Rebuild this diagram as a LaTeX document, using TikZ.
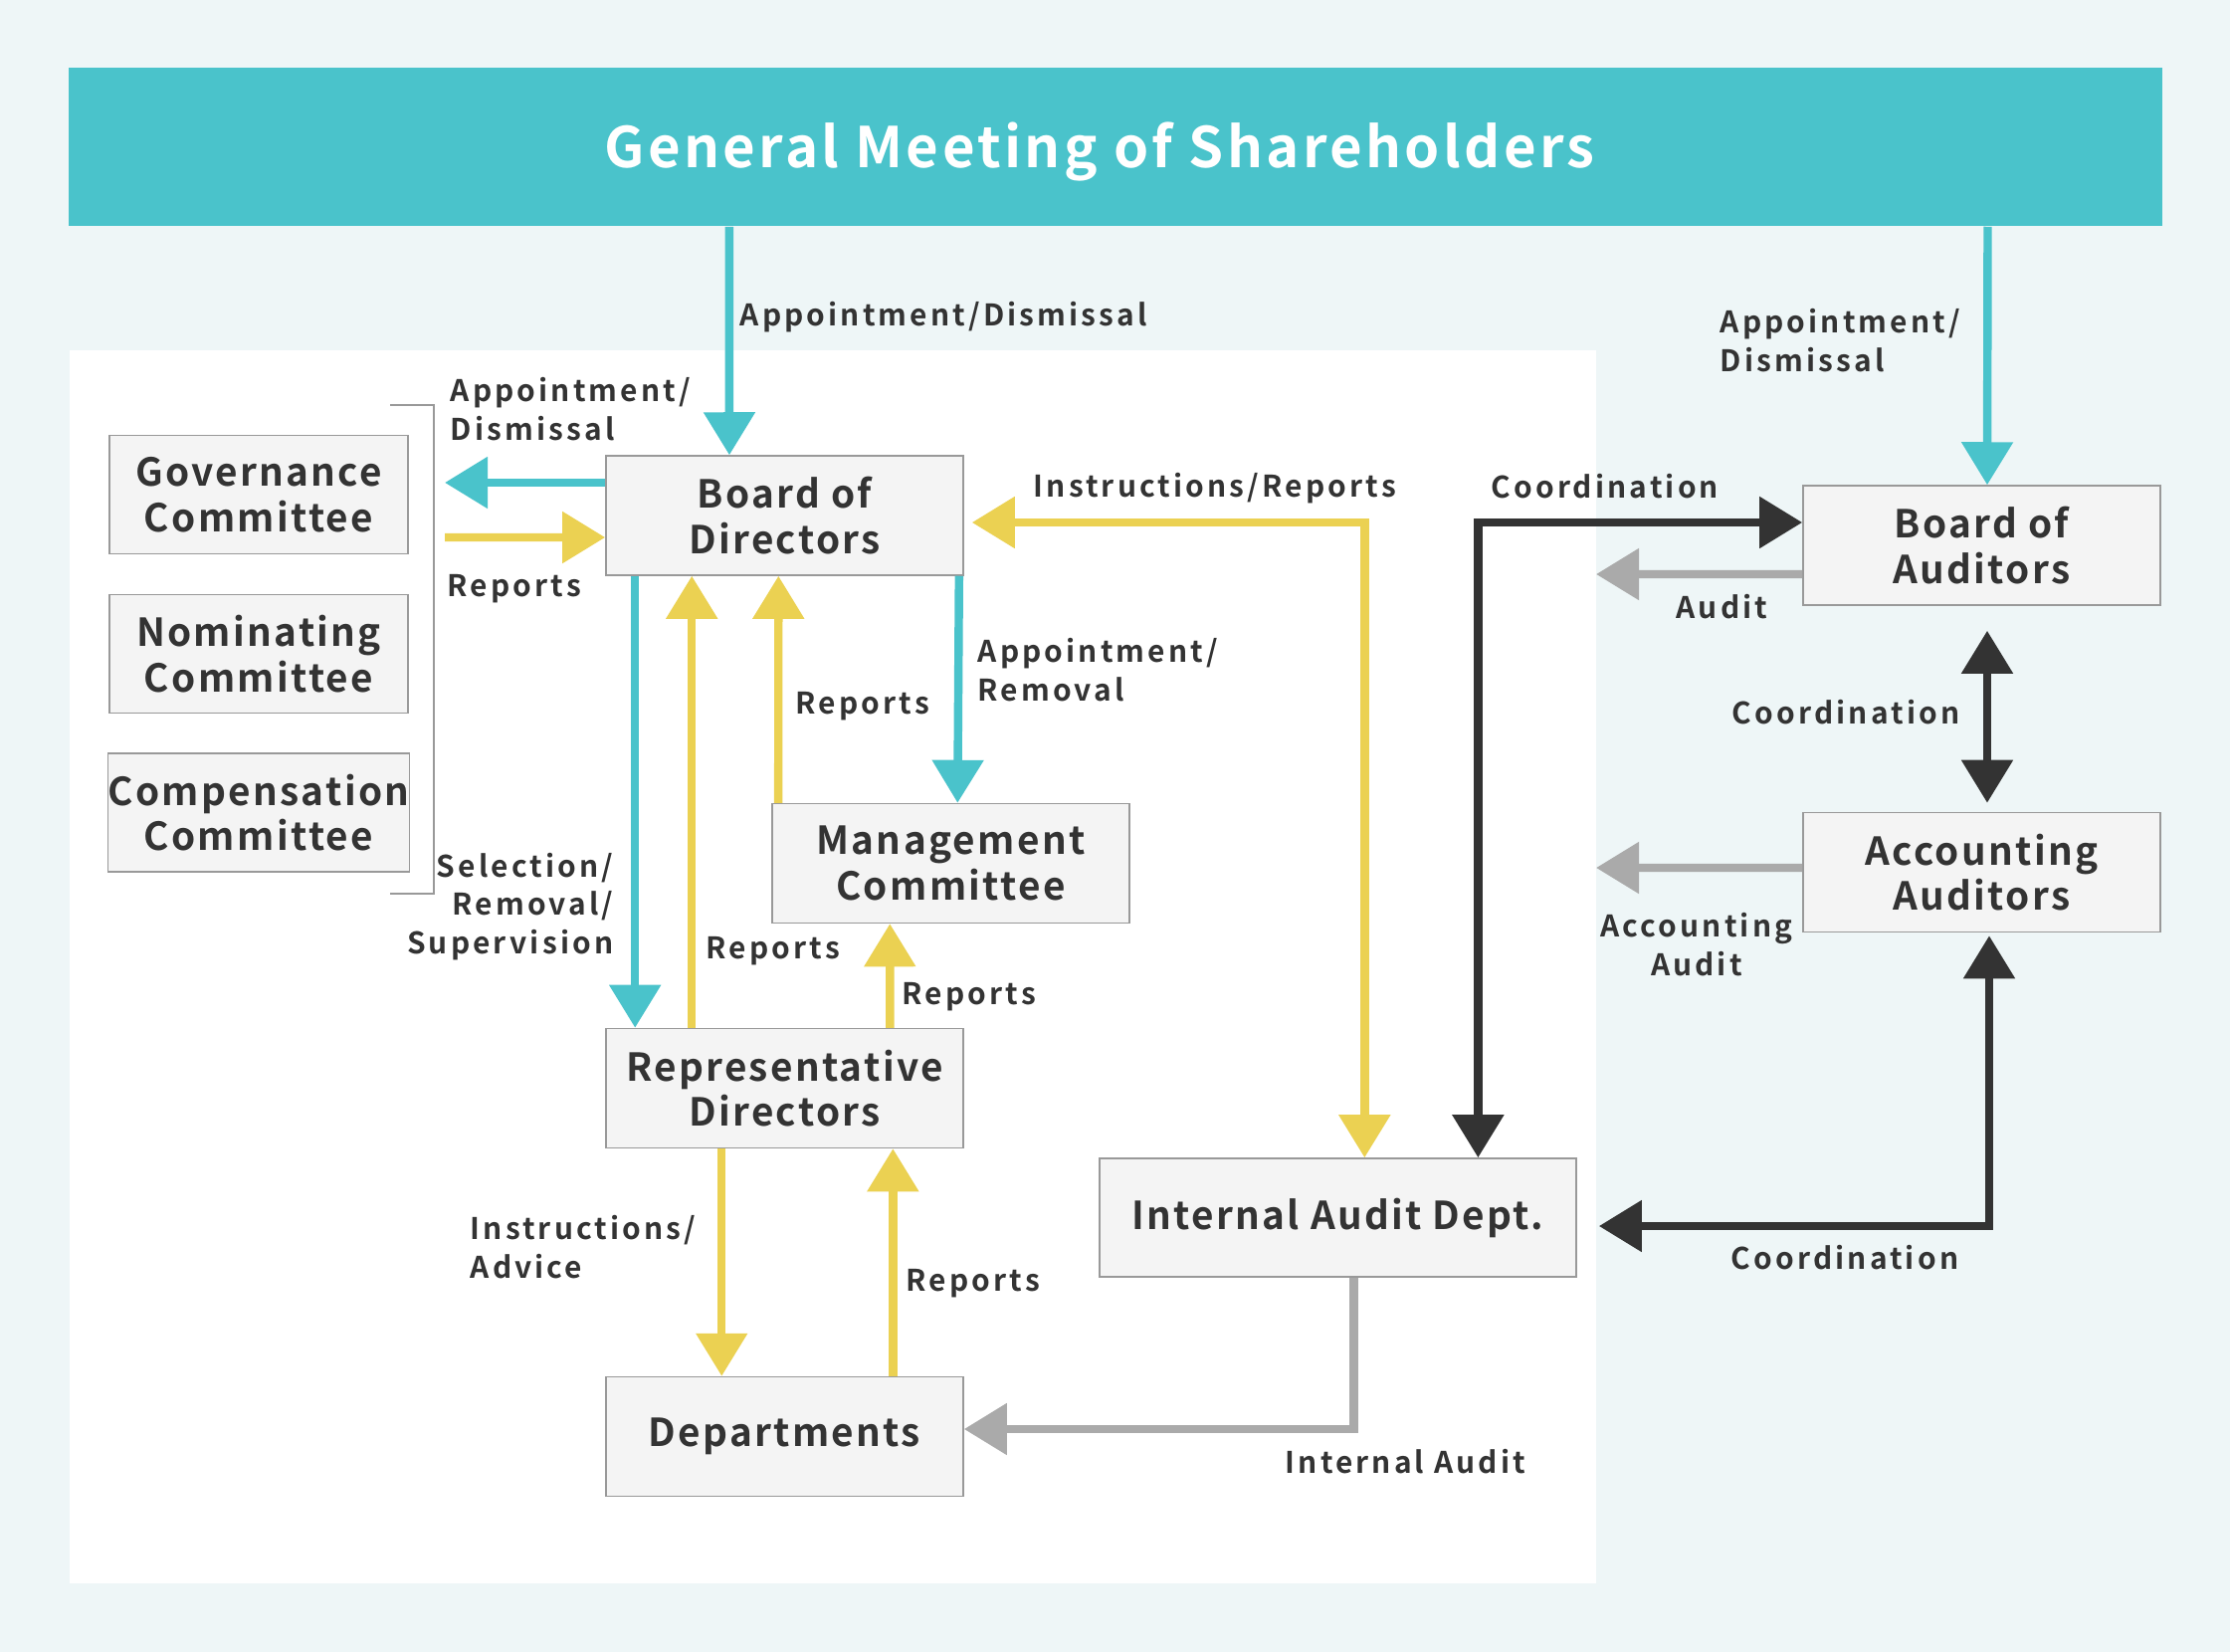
\documentclass[tikz,border=0pt]{standalone}
\usepackage{fontspec}
\setmainfont{Noto Sans CJK JP}[BoldFont={Noto Sans CJK JP Bold}, LetterSpace=6]
\usetikzlibrary{positioning, arrows.meta}

\definecolor{bgcol}{HTML}{EEF6F7}
\definecolor{tealc}{HTML}{4AC3CB}
\definecolor{yelc}{HTML}{EBD152}
\definecolor{darkc}{HTML}{333333}
\definecolor{grayc}{HTML}{AAAAAA}
\definecolor{boxc}{HTML}{F4F4F4}

\tikzset{
  box/.style={draw=black!40, fill=boxc, text=darkc, minimum width=3.59cm, minimum height=1.2cm,
    inner sep=0pt, align=center, font=\bfseries\fontsize{11}{13}\selectfont},
  lbl/.style={text=darkc, inner sep=0pt, font=\bfseries\fontsize{8.5}{11}\selectfont\addfontfeature{LetterSpace=10.5}},
  tealarr/.style={line width=2.4pt, draw=tealc, -{Triangle[length=0.43cm, width=0.5cm]}},
  yelarr/.style={line width=2.4pt, draw=yelc, -{Triangle[length=0.43cm, width=0.5cm]}},
  grayarr/.style={line width=2.4pt, draw=grayc, -{Triangle[length=0.43cm, width=0.5cm]}},
  yelboth/.style={line width=2.4pt, draw=yelc, {Triangle[length=0.43cm, width=0.5cm]}-{Triangle[length=0.43cm, width=0.5cm]}},
  darkboth/.style={line width=2.4pt, draw=darkc, {Triangle[length=0.43cm, width=0.5cm]}-{Triangle[length=0.43cm, width=0.5cm]}}
}

\begin{document}
\begin{tikzpicture}[x=0.01cm, y=-0.01cm]
\fill[bgcol] (0,0) rectangle (2241,1660);
\fill[white] (70,352) rectangle (1604,1591);
\node[fill=tealc, minimum width=21.02cm, minimum height=1.59cm, inner sep=0pt] (banner) at (1121,147.5) {};
\node[text=white, inner sep=0pt, font=\bfseries\fontsize{16}{19}\selectfont] (title) at (1105,152) {General Meeting of Shareholders};

\node[box, minimum width=3cm, minimum height=1.19cm] (gov) at (260,497) {Governance\\Committee};
\node[box, minimum width=3cm, minimum height=1.19cm] (nom) at (260,657) {Nominating\\Committee};
\node[box, minimum width=3cm, minimum height=1.19cm] (comp) at (260,816.5) {Compensation\\Committee};
\draw[black!40] (392,407) -- (436,407) -- (436,898) -- (392,898);
\coordinate (brk) at (447,517);

\node[box] (bod) at (788.5,518) {Board of\\Directors};
\node[box] (mgmt) at (955.5,867.5) {Management\\Committee};
\node[box] (rep) at (788.5,1093.5) {Representative\\Directors};
\node[box] (dept) at (788.5,1443.5) {Departments};
\node[box, minimum width=4.79cm, minimum height=1.19cm] (iad) at (1344.5,1223.5) {Internal Audit Dept.};
\node[box] (boa) at (1991.5,548) {Board of\\Auditors};
\node[box] (acc) at (1991.5,876.5) {Accounting\\Auditors};
\coordinate (auditpt) at (1604,577);
\coordinate (accpt) at (1604,872);

\draw[tealarr] ([xshift=-3.88cm]banner.south) -- ([xshift=-0.555cm]bod.north);
\draw[tealarr] ([xshift=8.76cm]banner.south) -- ([xshift=0.055cm]boa.north);
\draw[tealarr] ([yshift=0.33cm]bod.west) -- ([yshift=0.32cm]brk);
\draw[yelarr] ([yshift=-0.23cm]brk) -- ([yshift=-0.22cm]bod.west);
\draw[tealarr] ([xshift=0.3cm]bod.south west) -- ([xshift=0.3cm]rep.north west);
\draw[yelarr] ([xshift=0.87cm]rep.north west) -- ([xshift=0.87cm]bod.south west);
\draw[yelarr] ([xshift=0.07cm]mgmt.north west) -- ([xshift=1.74cm]bod.south west);
\draw[tealarr] ([xshift=-0.05cm]bod.south east) -- ([xshift=1.87cm]mgmt.north west);
\draw[yelarr] ([xshift=2.86cm]rep.north west) -- ([xshift=1.19cm]mgmt.south west);
\draw[yelarr] ([xshift=1.17cm]rep.south west) -- ([xshift=1.17cm]dept.north west);
\draw[yelarr] ([xshift=2.89cm]dept.north west) -- ([xshift=2.89cm]rep.south west);
\draw[grayarr] ([xshift=2.56cm]iad.south west) |- ([yshift=0.075cm]dept.east);
\draw[yelboth, shorten <=0.08cm] ([yshift=-0.07cm]bod.east) -| ([xshift=2.67cm]iad.north west);
\draw[darkboth] ([yshift=0.23cm]boa.west) -| ([xshift=3.81cm]iad.north west);
\draw[grayarr] ([yshift=-0.29cm]boa.west) -- (auditpt);
\draw[darkboth, shorten <=0.25cm, shorten >=0.09cm] ([xshift=0.055cm]boa.south) -- ([xshift=0.055cm]acc.north);
\draw[grayarr] ([yshift=0.045cm]acc.west) -- (accpt);
\draw[darkboth, shorten <=0.03cm, shorten >=0.22cm] ([xshift=0.075cm]acc.south) |- ([yshift=-0.085cm]iad.east);

\node[lbl, anchor=west] (l1) at (743,319) {Appointment/Dismissal};
\node[lbl, anchor=west, align=left] (l2) at (1728,342) {Appointment/\\Dismissal};
\node[lbl, anchor=west, align=left] (l3) at (452,411) {Appointment/\\Dismissal};
\node[lbl, anchor=west] (l4) at (449,592) {Reports};
\node[lbl, anchor=east, align=right] (l5) at (617,911) {Selection/\\Removal/\\Supervision};
\node[lbl, anchor=west] (l6) at (709,956) {Reports};
\node[lbl, anchor=west] (l7) at (799,710) {Reports};
\node[lbl, anchor=west, align=left] (l8) at (982,673) {Appointment/\\Removal};
\node[lbl, anchor=west] (l9) at (906,1002) {Reports};
\node[lbl, anchor=west, align=left] (l10) at (472,1253) {Instructions/\\Advice};
\node[lbl, anchor=west] (l11) at (910,1290) {Reports};
\node[lbl, anchor=west] (l12) at (1291,1469) {Internal Audit};
\node[lbl, anchor=west] (l13) at (1038,491) {Instructions/Reports};
\node[lbl, anchor=west] (l14) at (1498,489) {Coordination};
\node[lbl, anchor=west] (l15) at (1684,610) {Audit};
\node[lbl, anchor=east] (l16) at (1970,716) {Coordination};
\node[lbl, align=center] (l17) at (1705,949) {Accounting\\Audit};
\node[lbl] (l18) at (1854,1264) {Coordination};
\end{tikzpicture}
\end{document}
